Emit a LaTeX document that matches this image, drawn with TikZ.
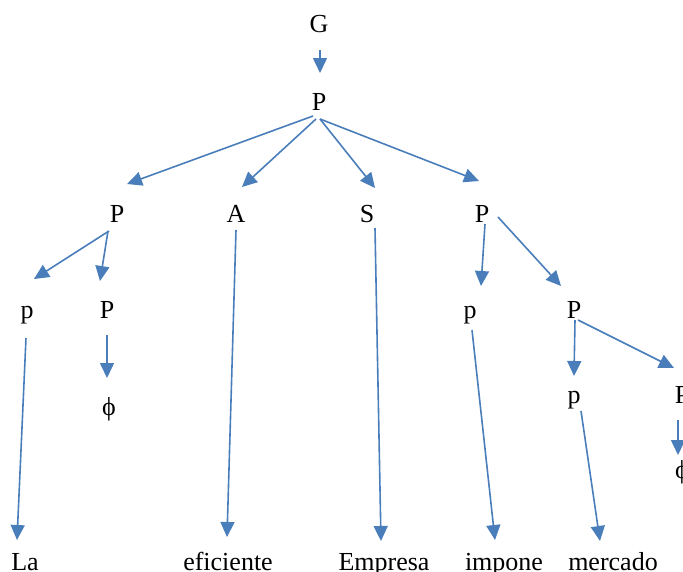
\documentclass[tikz,border=0pt]{standalone}
\usepackage{fontspec}
\setmainfont{Liberation Serif}
\usetikzlibrary{arrows.meta,calc}
\definecolor{arrowblue}{RGB}{74,126,187}
\begin{document}
\begin{tikzpicture}[x=1pt,y=-1pt,
  lbl/.style={anchor=base,inner sep=0pt,font=\fontsize{26}{30}\selectfont},
  conn/.style={draw=arrowblue,line width=1.6pt,-{Triangle[length=15pt,width=14pt]},fill=arrowblue}]
\useasboundingbox (0,0) rectangle (683,571);
\clip (0,0) rectangle (683,571);
\node[lbl] (G) at (319,32) {G};
\node[lbl] (P0) at (319,110) {P};
\node[lbl] (P1) at (117,222) {P};
\node[lbl] (A) at (236,222) {A};
\node[lbl] (S) at (367,222) {S};
\node[lbl] (P2) at (482,222) {P};
\node[lbl] (pL) at (27,318) {p};
\node[lbl] (P3) at (107,318) {P};
\node[lbl] (phi1) at (109,415) {ϕ};
\node[lbl] (pM) at (470,318) {p};
\node[lbl] (P4) at (574,318) {P};
\node[lbl] (pR) at (574,403) {p};
\node[lbl] (P5) at (682,403) {P};
\node[lbl] (phi2) at (682,478) {ϕ};
\node[lbl] (La) at (25,570) {La};
\node[lbl] (ef) at (228,570) {eficiente};
\node[lbl] (Em) at (384,570) {Empresa};
\node[lbl] (imp) at (504,570) {impone};
\node[lbl] (mer) at (613,570) {mercado};

\draw[conn] ($(G.base)+(1,18)$) -- ($(P0.base)+(1,-37)$);
\draw[conn] ($(P0.base)+(-6,6)$) -- ($(P1.base)+(10,-38)$);
\draw[conn] ($(P0.base)+(-3,9)$) -- ($(A.base)+(6,-35)$);
\draw[conn] ($(P0.base)+(1,9)$) -- ($(S.base)+(8,-34)$);
\draw[conn] ($(P0.base)+(1,9)$) -- ($(P2.base)+(-3,-41)$);
\draw[conn] ($(P1.base)+(-8,9)$) -- ($(pL.base)+(7,-39)$);
\draw[conn] ($(P1.base)+(-9,9)$) -- ($(P3.base)+(-7,-37)$);
\draw[conn] ($(P3.base)+(0,17)$) -- ($(phi1.base)+(-2,-37)$);
\draw[conn] ($(pL.base)+(-1,20)$) -- ($(La.base)+(-8,-30)$);
\draw[conn] ($(A.base)+(0,8)$) -- ($(ef.base)+(-1,-33)$);
\draw[conn] ($(S.base)+(8,6)$) -- ($(Em.base)+(-3,-29)$);
\draw[conn] ($(P2.base)+(3,2)$) -- ($(pM.base)+(11,-32)$);
\draw[conn] ($(P2.base)+(16,-5)$) -- ($(P4.base)+(-13,-32)$);
\draw[conn] ($(pM.base)+(2,12)$) -- ($(imp.base)+(-9,-30)$);
\draw[conn] ($(P4.base)+(1,2)$) -- ($(pR.base)+(0,-27)$);
\draw[conn] ($(P4.base)+(4,2)$) -- ($(P5.base)+(-8,-35)$);
\draw[conn] ($(pR.base)+(7,8)$) -- ($(mer.base)+(-13,-29)$);
\draw[conn] ($(P5.base)+(-4,17)$) -- ($(phi2.base)+(-4,-23)$);
\end{tikzpicture}
\end{document}
